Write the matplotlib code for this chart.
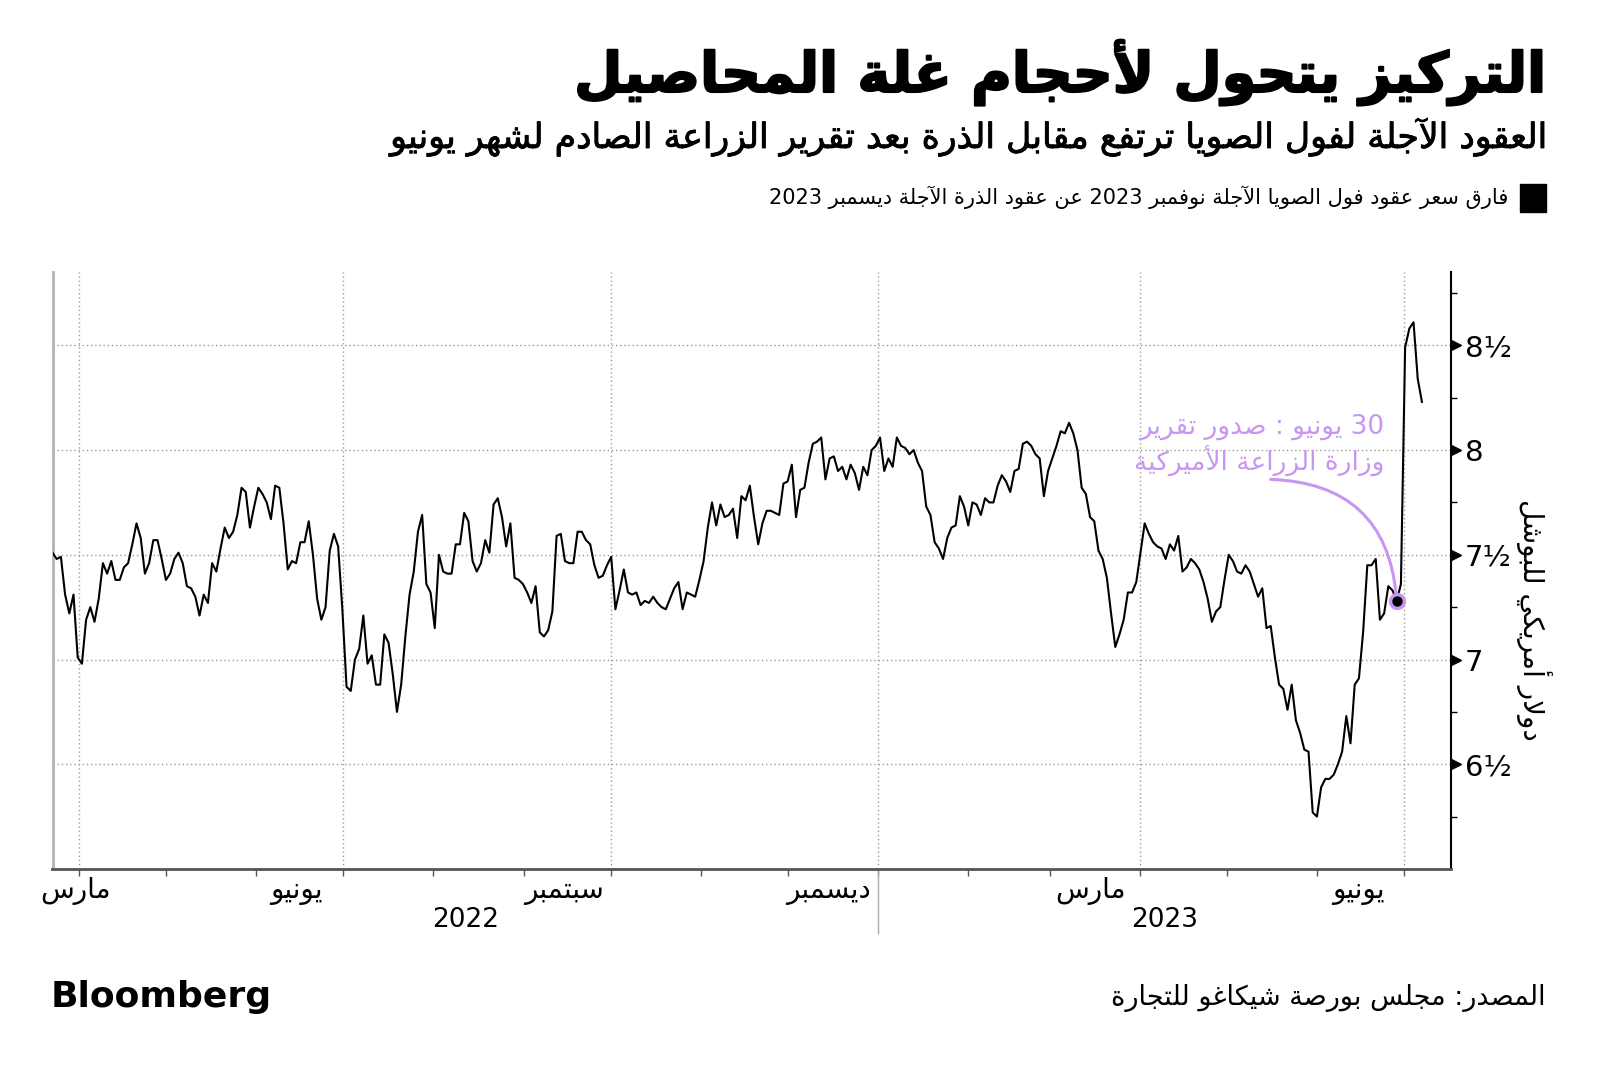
import re

import pandas as pd
import matplotlib
matplotlib.use("Agg")
import matplotlib.pyplot as plt
import matplotlib.dates as mdates
import matplotlib.patheffects as pe
from matplotlib import transforms
from matplotlib.patches import Rectangle

# ── data (USD per bushel, one value per trading day) ─────────────────────────
START, END = "2022-03-23", "2023-07-07"
SPREAD = [
    # late Mar - May 2022
    7.51, 7.48, 7.49, 7.31, 7.22, 7.31, 7.01, 6.98, 7.19, 7.25, 7.18, 7.29,
    7.46, 7.41, 7.47, 7.38, 7.38, 7.44, 7.46, 7.55, 7.65, 7.58, 7.41, 7.46,
    7.57, 7.57, 7.48, 7.38, 7.41, 7.48, 7.51, 7.46, 7.35, 7.34, 7.30, 7.21,
    7.31, 7.27, 7.46, 7.42, 7.53, 7.63, 7.58, 7.61, 7.69, 7.82, 7.80,
    # Jun - Sep 2022
    7.63, 7.73, 7.82, 7.79, 7.75, 7.67, 7.83, 7.82, 7.65, 7.43, 7.47, 7.46,
    7.56, 7.56, 7.66, 7.50, 7.29, 7.19, 7.25, 7.52, 7.60, 7.54, 7.24, 6.87,
    6.85, 7.00, 7.05, 7.21, 6.98, 7.02, 6.88, 6.88, 7.12, 7.08, 6.93, 6.75,
    6.88, 7.11, 7.31, 7.42, 7.61, 7.69, 7.36, 7.32, 7.15, 7.50,
    7.42, 7.41, 7.41, 7.55, 7.55, 7.70, 7.66, 7.47, 7.42, 7.46, 7.57, 7.51,
    7.74, 7.77, 7.68, 7.54, 7.65, 7.39, 7.38, 7.36, 7.32, 7.27, 7.35, 7.13,
    7.11, 7.14, 7.23, 7.59, 7.60, 7.47, 7.46, 7.46, 7.61, 7.61, 7.57, 7.55,
    7.45, 7.39, 7.40, 7.45, 7.49, 7.24, 7.33, 7.43, 7.32, 7.31, 7.32, 7.26,
    7.28,
    # Oct - Dec 2022
    7.27, 7.30, 7.27, 7.25, 7.24, 7.29, 7.34, 7.37, 7.24, 7.32, 7.31, 7.30,
    7.38, 7.47, 7.63, 7.75, 7.64, 7.74, 7.68, 7.69, 7.72, 7.58, 7.78, 7.76,
    7.83, 7.68, 7.55, 7.65, 7.71, 7.71, 7.70, 7.69, 7.84, 7.85, 7.93, 7.68,
    7.81, 7.82, 7.94, 8.03, 8.04, 8.06, 7.86, 7.96, 7.97, 7.90,
    7.92, 7.86, 7.93, 7.89, 7.81, 7.92, 7.88, 8.00, 8.02, 8.06, 7.90, 7.96,
    7.92, 8.06, 8.02, 8.01, 7.98, 8.00, 7.94, 7.90, 7.73, 7.69, 7.56, 7.53,
    7.48, 7.58, 7.63, 7.64, 7.78, 7.73, 7.64, 7.75, 7.74, 7.69, 7.77, 7.75,
    7.75, 7.83, 7.88, 7.85, 7.80, 7.90, 7.91, 8.03, 8.04, 8.02, 7.98,
    # 2023
    7.96, 7.78, 7.90, 7.96, 8.02, 8.09, 8.08, 8.13, 8.08, 8.00, 7.82, 7.79,
    7.68, 7.66, 7.52, 7.48, 7.39, 7.22, 7.06, 7.12, 7.19, 7.32, 7.32, 7.37,
    7.51, 7.65, 7.60, 7.56, 7.54, 7.53, 7.48, 7.55, 7.52, 7.59, 7.42, 7.44,
    7.48, 7.46, 7.43, 7.37, 7.29, 7.18, 7.23, 7.25, 7.38, 7.50,
    7.47, 7.42, 7.41, 7.45, 7.42, 7.36, 7.30, 7.34, 7.15, 7.16, 7.01, 6.88,
    6.86, 6.76, 6.88, 6.71, 6.65, 6.57, 6.56, 6.27, 6.25, 6.39, 6.43, 6.43,
    6.45, 6.50, 6.56, 6.73, 6.60, 6.88, 6.91, 7.13, 7.45, 7.45, 7.48, 7.19,
    7.22, 7.35, 7.33, 7.28, 7.36, 8.49, 8.58, 8.61, 8.34, 8.23,
]
EVENT_IDX = len(SPREAD) - 7          # 30 June, the USDA acreage report

Y_TICKS = [6.5, 7, 7.5, 8, 8.5]
Y_LABELS = ["6½", "7", "7½", "8", "8½"]
MONTH_LABELS = ["مارس", "يونيو", "سبتمبر", "ديسمبر", "مارس", "يونيو"]
MONTH_POS = ["2022-03-31", "2022-06-15", "2022-09-15", "2022-12-15",
             "2023-03-15", "2023-06-15"]
QUARTERS = ["2022-04-01", "2022-07-01", "2022-10-01", "2023-01-01",
            "2023-04-01", "2023-07-01"]
YEARS = ["2022", "2023"]

TITLE = "التركيز يتحول لأحجام غلة المحاصيل"
SUBTITLE = "العقود الآجلة لفول الصويا ترتفع مقابل الذرة بعد تقرير الزراعة الصادم لشهر يونيو"
LEGEND = "فارق سعر عقود فول الصويا الآجلة نوفمبر 2023 عن عقود الذرة الآجلة ديسمبر 2023"
YLABEL = "دولار أمريكي للبوشل"
NOTE = ["30 يونيو : صدور تقرير", "وزارة الزراعة الأميركية"]
SOURCE = "المصدر: مجلس بورصة شيكاغو للتجارة"

LAV = "#c896f0"
W, H = 1600, 1078

# ── minimal Arabic shaping (matplotlib lays glyphs out left to right) ───────
# letter -> (isolated form in Presentation Forms-B, number of forms)
FORMS = {
    "ء": (0xFE80, 1), "آ": (0xFE81, 2), "أ": (0xFE83, 2), "ؤ": (0xFE85, 2),
    "إ": (0xFE87, 2), "ئ": (0xFE89, 4), "ا": (0xFE8D, 2), "ب": (0xFE8F, 4),
    "ة": (0xFE93, 2), "ت": (0xFE95, 4), "ث": (0xFE99, 4), "ج": (0xFE9D, 4),
    "ح": (0xFEA1, 4), "خ": (0xFEA5, 4), "د": (0xFEA9, 2), "ذ": (0xFEAB, 2),
    "ر": (0xFEAD, 2), "ز": (0xFEAF, 2), "س": (0xFEB1, 4), "ش": (0xFEB5, 4),
    "ص": (0xFEB9, 4), "ض": (0xFEBD, 4), "ط": (0xFEC1, 4), "ظ": (0xFEC5, 4),
    "ع": (0xFEC9, 4), "غ": (0xFECD, 4), "ف": (0xFED1, 4), "ق": (0xFED5, 4),
    "ك": (0xFED9, 4), "ل": (0xFEDD, 4), "م": (0xFEE1, 4), "ن": (0xFEE5, 4),
    "ه": (0xFEE9, 4), "و": (0xFEED, 2), "ى": (0xFEEF, 2), "ي": (0xFEF1, 4),
}
LAM_ALEF = {"آ": 0xFEF5, "أ": 0xFEF7, "إ": 0xFEF9, "ا": 0xFEFB}


def _shape(text):
    out, prev_joins, i = [], False, 0
    while i < len(text):
        c = text[i]
        nxt = text[i + 1] if i + 1 < len(text) else ""
        if c == "ل" and nxt in LAM_ALEF:
            out.append(chr(LAM_ALEF[nxt] + (1 if prev_joins else 0)))
            prev_joins = False
            i += 2
            continue
        if c not in FORMS:
            out.append(c)
            prev_joins = False
            i += 1
            continue
        base, n = FORMS[c]
        back = prev_joins and n >= 2
        fwd = n == 4 and nxt in FORMS and FORMS[nxt][1] >= 2
        if n == 1:
            code = base
        elif back and fwd:
            code = base + 3
        elif fwd:
            code = base + 2
        elif back:
            code = base + 1
        else:
            code = base
        out.append(chr(code))
        prev_joins = n == 4
        i += 1
    return "".join(out)


def ar(text):
    """Shape and reorder to visual (left-to-right) order, keeping digit runs."""
    parts = re.findall(r"[0-9A-Za-z]+|[^0-9A-Za-z]+", _shape(text))
    return "".join(p if p[0].isascii() and p[0].isalnum() else p[::-1]
                   for p in reversed(parts))


def fx(x):
    return x / W


def fy(y):
    return 1 - y / H


plt.rcParams["font.family"] = ["DejaVu Sans"]

dates = pd.date_range(START, END, periods=len(SPREAD))
quarters = pd.to_datetime(QUARTERS)
x_left, x_right = pd.Timestamp(START), pd.Timestamp("2023-07-17")

fig = plt.figure(figsize=(W / 100, H / 100), dpi=100)
ax = fig.add_axes([fx(52.5), fy(869), (1451 - 52.5) / W, (869 - 272) / H])

for q in quarters:
    ax.axvline(q, color="#9a9a9a", lw=1, ls=(0, (1, 2)), zorder=1)
for v in Y_TICKS:
    ax.axhline(v, color="#9a9a9a", lw=1, ls=(0, (1, 2)), zorder=1)

ax.plot(dates, SPREAD, color="black", lw=1.5, zorder=3)

ax.set_xlim(x_left, x_right)
ax.set_ylim(6.0, 8.85)

ax.spines["top"].set_visible(False)
ax.spines["left"].set_color("#b3b3b3")
ax.spines["left"].set_linewidth(2)
ax.spines["bottom"].set_color("#555555")
ax.spines["bottom"].set_linewidth(2)
ax.spines["right"].set_color("black")
ax.spines["right"].set_linewidth(1.5)

ax.set_xticks(pd.date_range("2022-04-01", "2023-07-01", freq="MS"))
ax.set_xticklabels([])
ax.tick_params(axis="x", length=5, width=1, color="#555555", direction="out")

ax.yaxis.tick_right()
ax.set_yticks(Y_TICKS, Y_LABELS)
ax.set_yticks([v + 0.25 for v in [6.0] + Y_TICKS], minor=True)
ax.tick_params(axis="y", which="major", length=0, pad=10, labelsize=21)
ax.tick_params(axis="y", which="minor", length=4, width=1, color="black")

# triangle tick marks on the right spine
tri = transforms.blended_transform_factory(ax.transAxes, ax.transData) + \
    transforms.ScaledTranslation(5 / 100, 0, fig.dpi_scale_trans)
ax.plot([1] * len(Y_TICKS), Y_TICKS, ls="none", marker=">", ms=7,
        color="black", transform=tri, clip_on=False)

# month and year labels
xt = transforms.blended_transform_factory(ax.transData, fig.transFigure)
for lab, pos in zip(MONTH_LABELS, pd.to_datetime(MONTH_POS)):
    fig.text(mdates.date2num(pos), fy(898), ar(lab), transform=xt,
             ha="center", va="baseline", fontsize=20)
jan = quarters[3]
year_pos = [x_left + (jan - x_left) / 2, jan + (x_right - jan) / 2]
for lab, pos in zip(YEARS, year_pos):
    fig.text(mdates.date2num(pos), fy(927), lab, transform=xt, ha="center",
             va="baseline", fontsize=19)
ax.plot([jan, jan], [0, -0.107], color="#aaaaaa", lw=1,
        transform=transforms.blended_transform_factory(ax.transData, ax.transAxes),
        clip_on=False)

# event marker and note
ax.annotate("", xy=(dates[EVENT_IDX], SPREAD[EVENT_IDX]),
            xytext=(pd.Timestamp("2023-05-16"), 7.86),
            arrowprops=dict(arrowstyle="-", color=LAV, lw=2.2, shrinkA=0,
                            shrinkB=4, connectionstyle="arc3,rad=-0.45"),
            zorder=4)
ax.plot(dates[EVENT_IDX], SPREAD[EVENT_IDX], "o", ms=10, mfc="black",
        mec=LAV, mew=2.5, zorder=5)
fig.text(fx(1384), fy(434), ar(NOTE[0]), ha="right", va="baseline",
         fontsize=19, color=LAV)
fig.text(fx(1384), fy(471), ar(NOTE[1]), ha="right", va="baseline",
         fontsize=19, color=LAV)

fig.text(fx(1534), fy(620), ar(YLABEL), rotation=270, ha="center",
         va="center", fontsize=20)

# header
fig.text(fx(1546), fy(92), ar(TITLE), ha="right", va="baseline",
         fontsize=40, fontweight="bold",
         path_effects=[pe.withStroke(linewidth=1.5, foreground="black")])
fig.text(fx(1546), fy(148), ar(SUBTITLE), ha="right", va="baseline",
         fontsize=25,
         path_effects=[pe.withStroke(linewidth=0.6, foreground="black")])
fig.patches.append(Rectangle((fx(1520), fy(212)), 26 / W, 28 / H,
                             transform=fig.transFigure, color="black"))
fig.text(fx(1508), fy(204), ar(LEGEND), ha="right", va="baseline", fontsize=15)

# footer
fig.text(fx(51), fy(1007), "Bloomberg", ha="left", va="baseline",
         fontsize=26, fontweight="bold")
fig.text(fx(1546), fy(1005), ar(SOURCE), ha="right", va="baseline",
         fontsize=19.5)

fig.savefig("out.png", dpi=100)
